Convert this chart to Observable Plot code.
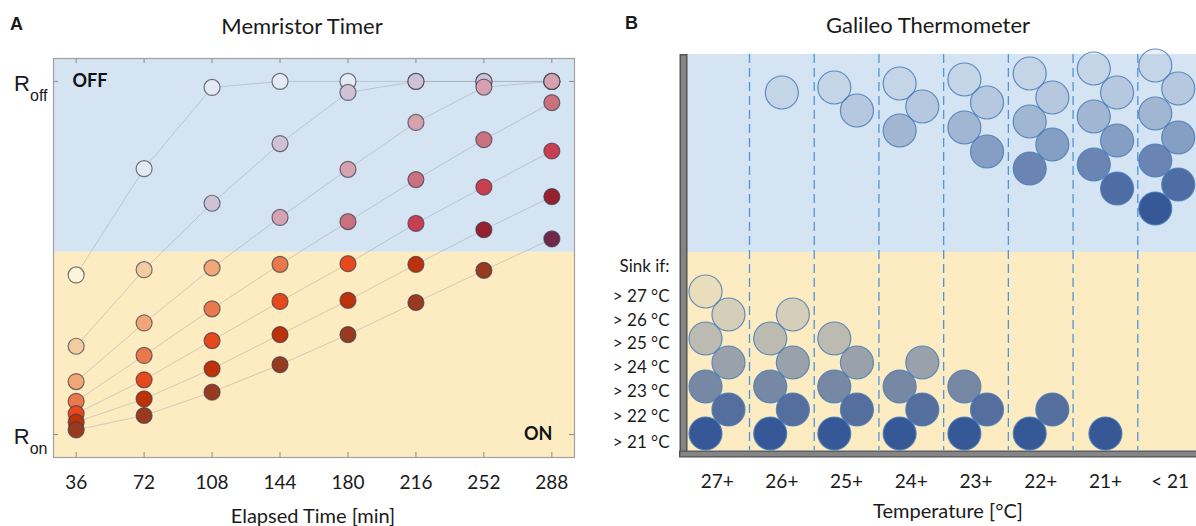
<!DOCTYPE html>
<html>
<head>
<meta charset="utf-8">
<script src="https://cdn.jsdelivr.net/npm/d3@7"></script>
<script src="https://cdn.jsdelivr.net/npm/@observablehq/plot@0.6"></script>
<style>
  html, body { margin: 0; padding: 0; background: #ffffff; }
  body { position: relative; width: 1196px; height: 526px; overflow: hidden; }
  #panelA, #panelB, #overlay { position: absolute; top: 0; }
  #panelA { left: 0; width: 600px; }
  #panelB { left: 600px; width: 610px; }
  #panelA svg, #panelB svg { max-width: none !important; }
  #overlay { left: 0; pointer-events: none; }
</style>
</head>
<body>
<div id="panelA"></div>
<div id="panelB"></div>
<svg id="overlay" width="1196" height="526" font-family="Lato, 'Open Sans', sans-serif" fill="#1a1a1a">
  <text x="10" y="30" font-family="'Liberation Sans', Arial, sans-serif" font-weight="bold" font-size="18">A</text>
  <text x="302" y="34" text-anchor="middle" font-size="22">Memristor Timer</text>
  <text x="313" y="523" text-anchor="middle" font-size="20">Elapsed Time [min]</text>
  <text x="625" y="29" font-family="'Liberation Sans', Arial, sans-serif" font-weight="bold" font-size="18">B</text>
  <text x="928" y="33" text-anchor="middle" font-size="22">Galileo Thermometer</text>
  <text x="948" y="518" text-anchor="middle" font-size="20">Temperature [°C]</text>
</svg>
<script>
// ---------------- Panel A data (normalised resistance: 0 = R_on, 1 = R_off) ----------------
const times = [36, 72, 108, 144, 180, 216, 252, 288];
const s1 = [0.452, 0.753, 0.983, 1.0, 1.0, 1.0, 1.0, 1.0];
const s2 = [0.250, 0.467, 0.655, 0.824, 0.969, 1.0, 1.0, 1.0];
const s3 = [0.150, 0.316, 0.472, 0.615, 0.751, 0.884, 0.984, 1.0];
const s4 = [0.094, 0.224, 0.356, 0.482, 0.603, 0.722, 0.835, 0.940];
const s5 = [0.059, 0.155, 0.266, 0.377, 0.484, 0.598, 0.701, 0.803];
const s6 = [0.035, 0.101, 0.186, 0.283, 0.380, 0.482, 0.580, 0.674];
const s7 = [0.013, 0.054, 0.120, 0.198, 0.283, 0.374, 0.465, 0.554];
const seriesValues = [s1, s2, s3, s4, s5, s6, s7];
const onColors  = ["#fcf4da", "#f3cba0", "#f1a677", "#e9784a", "#e5491c", "#bd3208", "#983a1f"];
const offColors = ["#e3eaf4", "#d0c2d6", "#d6a1b0", "#c9717f", "#c8404f", "#97202f", "#702849"];
const stateLevels = [0, 1];
const stateNames = ["on", "off"];
const switchLevel = 0.516;
const yExtentA = [-0.065, 1.065];
const timeExtent = [24, 300];

// ---------------- Panel B data ----------------
const columnLabels = ["27+", "26+", "25+", "24+", "23+", "22+", "21+", "< 21"];
const columnTemps = [27, 26, 25, 24, 23, 22, 21, 20];
const thresholds = [21, 22, 23, 24, 25, 26, 27];
const sinkLabels = ["> 21 °C", "> 22 °C", "> 23 °C", "> 24 °C", "> 25 °C", "> 26 °C", "> 27 °C"];
const sinkLabelHeights = [8, 34, 59, 83, 107, 130, 154];
const ballOpacity = [1, 0.85, 0.68, 0.5, 0.33, 0.2, 0.1];
const sunkHeights = [17, 41, 64, 88, 112, 136, 159];
const floatHeights = [[], [358], [363, 340], [367, 344, 320], [371, 348, 323, 299],
  [377, 353, 329, 306, 282], [382, 358, 334, 310, 286, 262], [385, 362, 337, 313, 290, 266, 242]];
const leftShift  = [-0.18, -0.18, -0.19, -0.18, -0.18, -0.17, -0.18, -0.23];
const rightShift = [0.175, 0.17, 0.16, 0.17, 0.17, 0.18, 0.18, 0.125];
const waterline = 198;
const tubeTop = 396;
const sinkTitleHeight = 184;

// ---------------- Panel A ----------------
const W_A = 600, H = 526;
const mA = {left: 53, right: 26, top: 58, bottom: 69};
const plotWA = W_A - mA.left - mA.right;
const plotHA = H - mA.top - mA.bottom;

const pointsA = seriesValues.flatMap((vals, i) => vals.map((v, j) => ({
  series: i, t: times[j], v, fill: v > switchLevel ? offColors[i] : onColors[i]
})));
const bandsA = [
  {y1: switchLevel, y2: yExtentA[1], fill: "#d5e4f2"},
  {y1: yExtentA[0], y2: switchLevel, fill: "#fdecc1"}
];

const chartA = Plot.plot({
  width: W_A, height: H,
  marginLeft: mA.left, marginRight: mA.right, marginTop: mA.top, marginBottom: mA.bottom,
  style: {background: "transparent", fontFamily: "Lato, sans-serif", fontSize: "19px", color: "#1a1a1a", maxWidth: "none"},
  x: {domain: timeExtent, ticks: times, tickSize: 0, tickPadding: 17.5, label: null},
  y: {domain: yExtentA, ticks: stateLevels, tickSize: 0, tickPadding: 6,
      tickFormat: d => stateNames[stateLevels.indexOf(d)], label: null},
  marks: [
    Plot.rect(bandsA, {y1: "y1", y2: "y2", fill: "fill"}),
    Plot.ruleX(times, {stroke: "#8c8c8c", insetTop: plotHA - 5}),
    Plot.ruleX(times, {stroke: "#8c8c8c", insetBottom: plotHA - 5}),
    Plot.ruleY(stateLevels, {stroke: "#8c8c8c", insetRight: plotWA - 5}),
    Plot.ruleY(stateLevels, {stroke: "#8c8c8c", insetLeft: plotWA - 5}),
    Plot.line(pointsA, {x: "t", y: "v", z: "series", stroke: "#8a8a9c", strokeOpacity: 0.35, strokeWidth: 1}),
    Plot.dot(pointsA, {x: "t", y: "v", r: 8, fill: "fill", stroke: "#3a3a4c", strokeOpacity: 0.7, strokeWidth: 1.2}),
    Plot.text([{label: "OFF", v: stateLevels[1]}], {y: "v", text: "label", frameAnchor: "left", dx: 19,
      textAnchor: "start", fontWeight: "bold", fontSize: 18, fill: "#111"}),
    Plot.text([{label: "ON", v: stateLevels[0]}], {y: "v", text: "label", frameAnchor: "right", dx: -22,
      textAnchor: "end", fontWeight: "bold", fontSize: 18, fill: "#111"}),
    Plot.frame({stroke: "#a0a0a0", strokeWidth: 1.2})
  ]
});
document.getElementById("panelA").append(chartA);

// R_off / R_on labels with subscripts
const ns = "http://www.w3.org/2000/svg";
chartA.querySelectorAll('[aria-label="y-axis tick label"] text').forEach(t => {
  const sub = t.textContent;
  t.textContent = "";
  t.setAttribute("dy", "3");
  t.setAttribute("font-family", "'Liberation Sans', Arial, sans-serif");
  const r = document.createElementNS(ns, "tspan");
  r.setAttribute("font-size", "22");
  r.textContent = "R";
  const s = document.createElementNS(ns, "tspan");
  s.setAttribute("font-size", "16");
  s.setAttribute("dy", "10");
  s.textContent = sub;
  t.append(r, s);
});

// ---------------- Panel B ----------------
const ballsB = [];
columnLabels.forEach((lab, c) => {
  const colTemp = columnTemps[c];
  const sunk = thresholds.filter(t => t <= colTemp);
  const floating = thresholds.filter(t => t > colTemp).reverse();
  const place = (t, h, n) => ({
    col: c + 1 + (n === 1 ? 0 : (t % 2 ? leftShift[c] : rightShift[c])),
    h, op: ballOpacity[thresholds.indexOf(t)], t
  });
  floating.forEach((t, k) => ballsB.push(place(t, floatHeights[c][k], floating.length)));
  sunk.slice().reverse().forEach(t => ballsB.push(place(t, sunkHeights[thresholds.indexOf(t)], sunk.length)));
});
const colPositions = columnLabels.map((_, i) => i + 1);
const separators = columnLabels.slice(1).map((_, i) => i + 1.5);
const bandsB = [
  {y1: waterline, y2: tubeTop, fill: "#d5e4f2"},
  {y1: 0, y2: waterline, fill: "#fdecc1"}
];

const chartB = Plot.plot({
  width: 610, height: H,
  marginLeft: 84.3, marginRight: 8, marginTop: 54, marginBottom: 76,
  style: {background: "transparent", fontFamily: "Lato, sans-serif", fontSize: "19px", color: "#1a1a1a", maxWidth: "none"},
  opacity: {type: "identity"},
  x: {domain: [0.5, columnLabels.length + 0.5], ticks: colPositions, tickFormat: d => columnLabels[d - 1],
      tickSize: 0, tickPadding: 23.5, label: null},
  y: {domain: [0, tubeTop], ticks: sinkLabelHeights,
      tickFormat: d => sinkLabels[sinkLabelHeights.indexOf(d)], tickSize: 0, tickPadding: 15.3, label: null},
  marks: [
    Plot.rect(bandsB, {y1: "y1", y2: "y2", fill: "fill"}),
    Plot.ruleX(separators, {stroke: "#4f95dc", strokeDasharray: "9,5", strokeWidth: 1.3}),
    Plot.dot(ballsB, {x: "col", y: "h", r: 16.5, fill: "#365896", fillOpacity: "op",
      stroke: "#4a7cb8", strokeWidth: 1.2, strokeOpacity: 0.85}),
    Plot.text([{label: "Sink if:", h: sinkTitleHeight}], {y: "h", text: "label", frameAnchor: "left",
      dx: -65.3, textAnchor: "start", fontSize: 17}),
    Plot.ruleX([0.5], {dx: -1.3, stroke: "#525252", strokeWidth: 8, insetBottom: -7}),
    Plot.ruleX([0.5], {dx: -1.3, stroke: "#858585", strokeWidth: 5, insetBottom: -5.5, insetTop: 1.5}),
    Plot.ruleY([0], {dy: 3.5, stroke: "#525252", strokeWidth: 7, insetLeft: -5.3}),
    Plot.ruleY([0], {dy: 3.5, stroke: "#858585", strokeWidth: 4.5, insetLeft: -3.8})
  ]
});
document.getElementById("panelB").append(chartB);
chartB.querySelectorAll('[aria-label="y-axis tick label"]').forEach(g => g.setAttribute("font-size", "17"));
chartB.querySelectorAll('[aria-label="y-axis tick label"] text').forEach(t => t.setAttribute("font-size", "17"));
</script>
</body>
</html>
